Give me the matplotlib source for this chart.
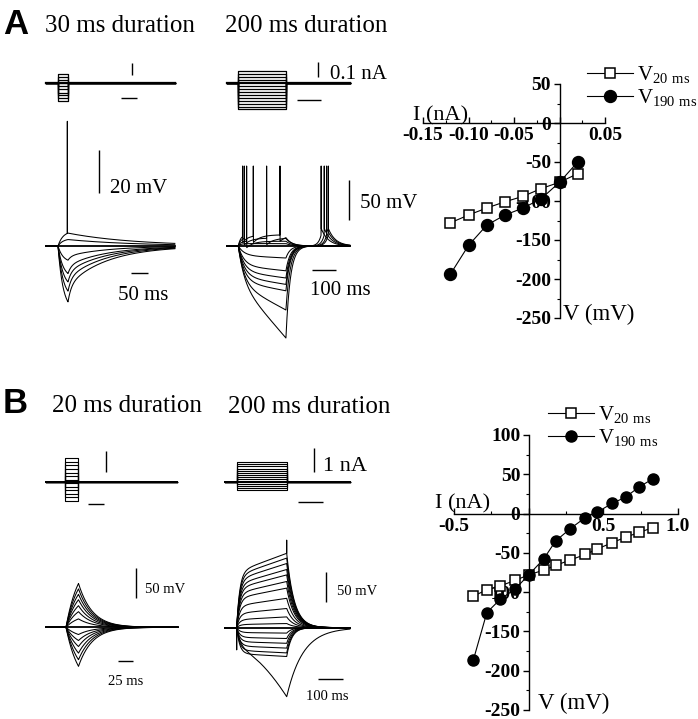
"""Current-clamp responses (A, B) and the I-V relations read from them."""
import numpy as np
import matplotlib
matplotlib.use("Agg")
import matplotlib.pyplot as plt
from matplotlib.ticker import MultipleLocator, FuncFormatter

W, H = 698, 719
plt.rcParams["font.family"] = ["Liberation Serif", "DejaVu Serif"]
plt.rcParams["mathtext.fontset"] = "custom"
plt.rcParams["mathtext.rm"] = "Liberation Serif"
plt.rcParams["axes.unicode_minus"] = False

# ---- I-V relation, panel A (nA, mV) ----
iv_a_current = [-0.12, -0.10, -0.08, -0.06, -0.04, -0.02, 0.0, 0.02]
iv_a_v20 = [-128, -118, -109, -101, -94, -84, -76, -65]
iv_a_v190 = [-194, -157, -131, -118, -109, -97, -76, -50]

# ---- I-V relation, panel B (nA, mV) ----
iv_b_current = [-0.37, -0.28, -0.19, -0.09, 0.0, 0.10, 0.18, 0.28, 0.38,
                0.46, 0.56, 0.65, 0.74, 0.83]
iv_b_v20 = [-105, -97, -92, -85, -78, -72, -66, -59, -52, -45, -37, -30, -24, -18]
iv_b_v190 = [-186, -126, -109, -96, -78, -58, -35, -19, -5, 2, 13, 21, 34, 44]

# ---- injected current steps (nA) ----
a30_steps = [0.07, 0.045, 0.02, -0.005, -0.03, -0.055, -0.08, -0.10, -0.125, -0.145]
a200_steps = [0.084, 0.063, 0.042, 0.021, -0.02, -0.04, -0.06, -0.08, -0.10,
              -0.12, -0.14, -0.157, -0.173]
b20_steps = [1.1, 0.93, 0.77, 0.6, 0.43, 0.27, 0.1, -0.07, -0.23, -0.4, -0.57,
             -0.73, -0.9]
b200_steps = iv_b_current

# ---- voltage responses (mV from rest) ----
a30_peak = [-26, -21, -16.7, -12.8, -6.6, 3, 6]
a30_spike = (28, 58)                       # time (ms), height on the +6 mV trace
a200_hyper = [-15, -31, -40, -48, -56, -80, -115]
a200_fast = [0.8, 0.8, 0.8, 0.8, 0.8, 0.6, 0.4]
a200_rebound = [None, None, None, 378, 371, 361, 348]
a200_depol = [14, 10, 6, 3]
a200_depol_spikes = [[18, 63, 175], [25, 119], [35], []]
spike_top = 100
b20_peak = [73, 64, 55, 46, 36, 26, 14, -12, -22, -32, -43, -54, -65]
b200_end = [124, 116, 107, 97, 88, 77, 66, 49, 32, 18, 7,
            -9, -18, -26, -34, -42, -48]
b200_deepest = -115
b200_artifacts = (-37, 146)

fig = plt.figure(figsize=(W / 100, H / 100), dpi=100)
fig.patch.set_facecolor("white")


def px_axes(left, top, right, bottom):
    return fig.add_axes([left / W, 1 - bottom / H, (right - left) / W, (bottom - top) / H])


def trace_axes(box, x0, y0, ms_per_px, px_per_unit):
    left, top, right, bottom = box
    ax = px_axes(left, top, right, bottom)
    ax.set_xlim((left - x0) * ms_per_px, (right - x0) * ms_per_px)
    ax.set_ylim((y0 - bottom) / px_per_unit, (y0 - top) / px_per_unit)
    ax.axis("off")
    return ax


def scale_bar(ax, xp, yp, length, vertical):
    x, y = ax.transData.inverted().transform((xp, H - yp))
    if vertical:
        ax.plot([x, x], [y, y + length], color="k", lw=1.0, solid_capstyle="butt")
    else:
        ax.plot([x, x + length], [y, y], color="k", lw=1.0, solid_capstyle="butt")


def label(xp, yp, s, size, **kw):
    fig.text(xp / W, 1 - yp / H, s, fontsize=size, va="baseline", **kw)


def steps(ax, t0, t1, dur, levels, lw):
    ax.plot([t0, t1], [0, 0], color="k", lw=lw * 1.8)
    for lev in levels:
        ax.plot([t0, 0, 0, dur, dur, t1], [0, 0, lev, lev, 0, 0], color="k", lw=lw)


def put_spike(t, v, s, top):
    v[np.argmin(np.abs(t - s))] = top


LW = 0.75

# ================= panel A : current steps =================
ax = trace_axes((40, 55, 190, 112), 58, 82.7, 3.0, 123)
steps(ax, -36, 351, 30, a30_steps, 0.9)
scale_bar(ax, 131.7, 75, 0.1, True)
scale_bar(ax, 120.7, 97.7, 50, False)

ax = trace_axes((220, 55, 400, 115), 238.3, 83.3, 4.2, 150)
steps(ax, -47, 469, 200, a200_steps, 0.9)
scale_bar(ax, 318.3, 76.7, 0.1, True)
scale_bar(ax, 296.7, 100, 100, False)

# ================= panel A : voltage, 30 ms =================
ax = trace_axes((40, 110, 190, 320), 58, 246, 3.0, 2.15)
t = np.arange(-36, 351, 0.5)
ax.plot(t, np.zeros_like(t), color="k", lw=1.3)
for amp in a30_peak:
    v = np.zeros_like(t)
    on = (t >= 0) & (t <= 30)
    v[on] = amp * (1 - np.exp(-t[on] / 15)) / (1 - np.exp(-30 / 15))
    s = t[t > 30] - 30
    if amp < 0:
        v[t > 30] = amp * (0.3 * np.exp(-s / 10) + 0.7 * np.exp(-s / 120))
    else:
        v[t > 30] = amp * np.exp(-s / 200)
    if amp == max(a30_peak):
        put_spike(t, v, a30_spike[0], a30_spike[1])
    ax.plot(t, v, color="k", lw=LW)
scale_bar(ax, 99, 193, 20, True)
scale_bar(ax, 131, 273, 50, False)

# ================= panel A : voltage, 200 ms =================
ax = trace_axes((220, 150, 400, 345), 238.3, 246, 4.2, 0.8)
t = np.arange(-47, 469, 0.5)
ax.plot(t, np.zeros_like(t), color="k", lw=1.3)
on = (t >= 0) & (t <= 200)
after = t > 200
for lev, f, rb in zip(a200_hyper, a200_fast, a200_rebound):
    v = np.zeros_like(t)
    norm = f * (1 - np.exp(-200 / 25)) + (1 - f)
    v[on] = lev * (f * (1 - np.exp(-t[on] / 25)) + (1 - f) * t[on] / 200) / norm
    v[after] = lev * np.exp(-(t[after] - 200) / 18)
    if rb is not None:
        pre = after & (t < rb)
        v[pre] += 14 * np.exp((t[pre] - rb) / 12)
        post = t >= rb
        v[post] += 22 * np.exp(-(t[post] - rb) / 30)
        put_spike(t, v, rb, spike_top)
    ax.plot(t, v, color="k", lw=LW)
for lev, spikes in zip(a200_depol, a200_depol_spikes):
    v = np.zeros_like(t)
    v[t >= 0] = lev * (1 - np.exp(-t[t >= 0] / 10))
    for s in spikes:
        m = t > s
        v[m] -= 8 * np.exp(-(t[m] - s) / 30)
    end = v[np.argmin(np.abs(t - 200))]
    v[after] = end * np.exp(-(t[after] - 200) / 25)
    for s in spikes:
        put_spike(t, v, s, spike_top)
    ax.plot(t, v, color="k", lw=LW)
scale_bar(ax, 349, 220, 50, True)
scale_bar(ax, 312, 270, 100, False)

# ================= panel B : current steps =================
ax = trace_axes((40, 440, 190, 512), 65, 481.7, 1.6, 21.3)
steps(ax, -30, 179, 20, b20_steps, 0.8)
scale_bar(ax, 106, 472.3, 1, True)
scale_bar(ax, 88.3, 504.3, 25, False)

ax = trace_axes((220, 440, 360, 512), 236.7, 481.7, 4.0, 23.4)
steps(ax, -47, 453, 200, b200_steps, 0.8)
scale_bar(ax, 314, 471.7, 1, True)
scale_bar(ax, 298.3, 502.3, 100, False)

# ================= panel B : voltage, 20 ms =================
ax = trace_axes((40, 560, 190, 690), 66, 627.3, 1.6, 0.6)
t = np.arange(-32, 179, 0.25)
ax.plot(t, np.zeros_like(t), color="k", lw=1.3)
for amp in b20_peak:
    v = np.zeros_like(t)
    on = (t >= 0) & (t <= 20)
    v[on] = amp * (1 - np.exp(-t[on] / 20)) / (1 - np.exp(-1))
    v[t > 20] = amp * np.exp(-(t[t > 20] - 20) / 22)
    ax.plot(t, v, color="k", lw=LW)
scale_bar(ax, 136, 598, 50, True)
scale_bar(ax, 117.7, 661, 25, False)

# ================= panel B : voltage, 200 ms =================
ax = trace_axes((220, 520, 360, 712), 236.7, 627.7, 4.0, 0.6)
t = np.arange(-47, 453, 0.5)
ax.plot(t, np.zeros_like(t), color="k", lw=1.3)
on = (t >= 0) & (t <= 200)
after = t > 200
for lev in b200_end:
    f = 0.75 if lev > 0 else 0.9
    norm = f * (1 - np.exp(-200 / 12)) + (1 - f)
    v = np.zeros_like(t)
    v[on] = lev * (f * (1 - np.exp(-t[on] / 12)) + (1 - f) * t[on] / 200) / norm
    v[after] = lev * np.exp(-(t[after] - 200) / (30 if lev > 0 else 20))
    if lev == max(b200_end):
        put_spike(t, v, 0, b200_artifacts[0])
        put_spike(t, v, 200, b200_artifacts[1])
    ax.plot(t, v, color="k", lw=LW)
v = np.zeros_like(t)
shape = 35 * (1 - np.exp(-t[on] / 15)) + 80 * (t[on] / 200) ** 1.6
v[on] = b200_deepest * shape / shape[-1]
v[after] = b200_deepest * np.exp(-(t[after] - 200) / 65)
ax.plot(t, v, color="k", lw=LW)
scale_bar(ax, 326, 601.7, 50, True)
scale_bar(ax, 318, 679, 100, False)


# ================= I-V plots =================
def iv_axes(box, xlim, ylim, xstep, xfmt):
    ax = px_axes(*box)
    ax.set_xlim(xlim)
    ax.set_ylim(ylim)
    ax.patch.set_visible(False)
    ax.spines[["top", "right"]].set_visible(False)
    ax.spines["left"].set_position(("data", 0))
    ax.spines["bottom"].set_position(("data", 0))
    for sp in ("left", "bottom"):
        ax.spines[sp].set_linewidth(1.0)
    ax.xaxis.set_major_locator(MultipleLocator(xstep))
    ax.xaxis.set_minor_locator(MultipleLocator(xstep / 2))
    ax.yaxis.set_major_locator(MultipleLocator(50))
    ax.yaxis.set_minor_locator(MultipleLocator(25))
    ax.xaxis.set_major_formatter(FuncFormatter(lambda v, p: "" if abs(v) < 1e-9 else xfmt % v))
    ax.yaxis.set_major_formatter(FuncFormatter(lambda v, p: "%d" % round(v)))
    ax.tick_params(axis="x", which="both", direction="in", pad=3)
    ax.tick_params(axis="y", which="both", direction="out", pad=2)
    ax.tick_params(which="major", length=4, width=1.0, labelsize=14)
    ax.tick_params(which="minor", length=2.5, width=0.8)
    for lab in ax.get_xticklabels() + ax.get_yticklabels():
        lab.set_fontweight("bold")
    return ax


def iv_series(ax, cur, v20, v190, ms_sq, ms_ci, legend_at):
    sq, = ax.plot(cur, v20, "-s", color="k", lw=0.8, ms=ms_sq, mfc="white",
                  mec="k", mew=1.1, zorder=4)
    ci, = ax.plot(cur, v190, "-o", color="k", lw=0.8, ms=ms_ci, mfc="k", zorder=5)
    ax.legend([sq, ci], [r"V$_{\mathregular{20\ ms}}$", r"V$_{\mathregular{190\ ms}}$"],
              loc="upper left", bbox_to_anchor=(legend_at[0] / W, 1 - legend_at[1] / H),
              bbox_transform=fig.transFigure, frameon=False, fontsize=15,
              handlelength=2.2, handletextpad=0.2, labelspacing=0.1,
              borderpad=0, borderaxespad=0, numpoints=1)


ax = iv_axes((423, 84, 605, 318), (-0.15, 0.05), (-250, 50), 0.05, "%.2f")
iv_series(ax, iv_a_current, iv_a_v20, iv_a_v190, 7.2, 8.6, (587, 64))
ax = iv_axes((454, 435, 678, 710), (-0.5, 1.0), (-250, 100), 0.5, "%.1f")
iv_series(ax, iv_b_current, iv_b_v20, iv_b_v190, 6.7, 8.0, (548, 404))

label(413, 120, "I (nA)", 16)
label(563, 320, "V (mV)", 16.5)
label(435, 508, "I (nA)", 16)
label(538, 709, "V (mV)", 16.5)

# ================= titles and scale labels =================
label(3, 34, "A", 25, family="Liberation Sans", weight="bold")
label(3, 413, "B", 25, family="Liberation Sans", weight="bold")
label(45, 32, "30 ms duration", 18)
label(225, 32, "200 ms duration", 18)
label(52, 412, "20 ms duration", 18)
label(228, 413, "200 ms duration", 18)

label(330, 79, "0.1 nA", 15)
label(110, 193, "20 mV", 15)
label(118, 300, "50 ms", 15)
label(360, 208, "50 mV", 15)
label(310, 295, "100 ms", 15)

label(323, 471, "1 nA", 16)
label(145, 593, "50 mV", 10.5)
label(108, 685, "25 ms", 10.5)
label(337, 595, "50 mV", 10.5)
label(306, 700, "100 ms", 10.5)

fig.savefig("out.png", dpi=100)
